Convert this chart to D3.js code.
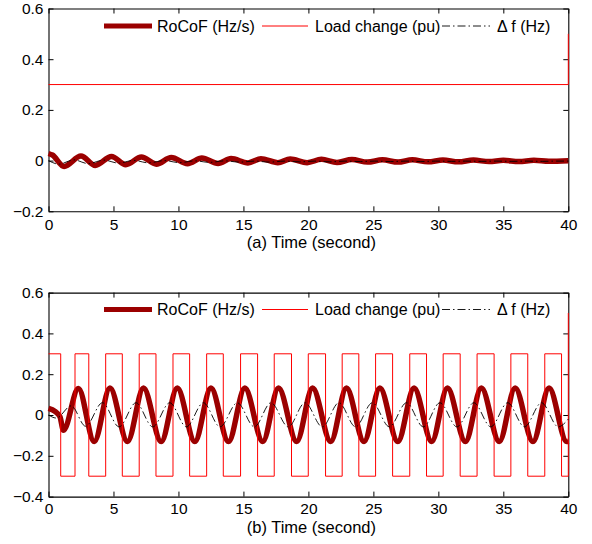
<!DOCTYPE html>
<html>
<head>
<meta charset="utf-8">
<script src="https://cdn.jsdelivr.net/npm/d3@7"></script>
<style>
  html, body { margin: 0; padding: 0; background: #fff; }
  svg { display: block; font-family: "Liberation Sans", Arial, Helvetica, sans-serif; }
</style>
</head>
<body>
<svg id="chart" width="592" height="544"></svg>
<script>
// ---------------- data ----------------
const timeTicks = [0, 5, 10, 15, 20, 25, 30, 35, 40];
const timeTickLabels = ["0", "5", "10", "15", "20", "25", "30", "35", "40"];
const yTicksA = [-0.2, 0, 0.2, 0.4, 0.6];
const yTickLabelsA = ["\u22120.2", "0", "0.2", "0.4", "0.6"];
const yTicksB = [-0.4, -0.2, 0, 0.2, 0.4, 0.6];
const yTickLabelsB = ["\u22120.4", "\u22120.2", "0", "0.2", "0.4", "0.6"];
const seriesNames = ["RoCoF (Hz/s)", "Load change (pu)", "\u0394 f (Hz)"];
const xLabelA = "(a) Time (second)";
const xLabelB = "(b) Time (second)";

// panel (a): constant load
const loadA_t = [0, 40];
const loadA_v = [0.3, 0.5];
const rocofA_t = [0, 0.3, 1.2, 2.5, 3.6, 4.85, 5.95, 7.15, 8.3, 9.45, 10.7, 11.8, 13.05, 14.05, 15.35, 16.35,
  17.65, 18.6, 19.9, 21.0, 22.2, 23.35, 24.55, 25.7, 26.9, 28.0, 29.2, 30.35, 31.55, 32.7, 33.9, 35.0,
  36.2, 37.35, 38.5, 40];
const rocofA_v = [0.028, 0.022, -0.023, 0.018, -0.019, 0.016, -0.016, 0.014, -0.014, 0.012, -0.012, 0.010, -0.011, 0.008, -0.009, 0.007,
  -0.008, 0.006, -0.008, 0.005, -0.007, 0.004, -0.006, 0.003, -0.006, 0.003, -0.005, 0.002, -0.005, 0.002, -0.004, 0.001,
  -0.004, 0.001, -0.003, -0.001];
const dfA_t = [0, 0.8, 1.95, 3.05, 4.25, 5.4, 6.55, 7.7, 8.9, 10.1, 11.25, 12.4, 13.55, 14.7, 15.85, 17.0, 18.15, 19.3,
  20.45, 21.6, 22.8, 24.0, 25.1, 26.3, 27.5, 28.6, 29.8, 31.0, 32.1, 33.3, 34.5, 35.6, 36.8, 38.0, 39.1, 40];
const dfA_v = [0, -0.014, 0.003, -0.012, 0.002, -0.010, 0.001, -0.009, 0.000, -0.008, -0.001, -0.007, -0.001, -0.006, -0.002, -0.006, -0.002, -0.005,
  -0.002, -0.005, -0.002, -0.004, -0.002, -0.004, -0.002, -0.004, -0.002, -0.003, -0.002, -0.003, -0.002, -0.003, -0.002, -0.003, -0.002, -0.002];

// panel (b): square-wave load (step times and levels)
const loadB_t = [0, 0.94, 2.04, 3.1, 4.4, 5.68, 6.98, 8.27, 9.58, 10.86, 12.17, 13.45, 14.78, 16.09, 17.37, 18.7,
  19.99, 21.32, 22.6, 23.88, 25.17, 26.48, 27.8, 29.09, 30.37, 31.68, 32.98, 34.29, 35.58, 36.88, 38.19, 39.48, 40];
const loadB_v = [0.3, -0.3, 0.3, -0.3, 0.3, -0.3, 0.3, -0.3, 0.3, -0.3, 0.3, -0.3, 0.3, -0.3, 0.3, -0.3,
  0.3, -0.3, 0.3, -0.3, 0.3, -0.3, 0.3, -0.3, 0.3, -0.3, 0.3, -0.3, 0.3, -0.3, 0.3, -0.3, 0.5];
const rocofB_t = [0, 0.5, 0.88, 1.15, 2.3, 3.52, 4.73, 6.08, 7.31, 8.67, 9.91, 11.26, 12.5, 13.85, 15.11, 16.49,
  17.7, 19.1, 20.32, 21.72, 22.93, 24.28, 25.5, 26.88, 28.13, 29.49, 30.7, 32.08, 33.31, 34.69, 35.91, 37.28,
  38.52, 39.88, 40];
const rocofB_v = [0.033, 0.018, -0.008, -0.075, 0.13, -0.13, 0.132, -0.13, 0.132, -0.13, 0.132, -0.13, 0.132, -0.13, 0.132, -0.13,
  0.132, -0.13, 0.132, -0.13, 0.132, -0.13, 0.132, -0.13, 0.132, -0.13, 0.132, -0.13, 0.132, -0.13, 0.132, -0.13,
  0.132, -0.13, -0.128];
const dfB_t = [0, 0.6, 1.75, 2.85, 4.15, 5.43, 6.73, 8.02, 9.33, 10.61, 11.92, 13.2, 14.53, 15.84, 17.12, 18.45,
  19.74, 21.07, 22.35, 23.63, 24.92, 26.23, 27.55, 28.84, 30.12, 31.43, 32.73, 34.04, 35.33, 36.63, 37.94, 39.23, 40];
const dfB_v = [0, -0.015, 0.045, -0.055, 0.06, -0.058, 0.06, -0.058, 0.06, -0.058, 0.06, -0.058, 0.06, -0.058, 0.06, -0.058,
  0.06, -0.058, 0.06, -0.058, 0.06, -0.058, 0.06, -0.058, 0.06, -0.058, 0.06, -0.058, 0.06, -0.058, 0.06, -0.058, -0.02];

// ---------------- drawing ----------------
const svg = d3.select("#chart");
const TICK_FONT = 15.5, LABEL_FONT = 16;
const C_ROCOF = "#9b0000", C_LOAD = "#ff0000", C_DF = "#000000";
const DF_DASH = "8,3,1.5,3";

function zip(t, v) { return t.map((d, i) => [d, v[i]]); }

function panel(opts) {
  const x = d3.scaleLinear().domain([0, 40]).range([48.5, 568.3]);
  const y = d3.scaleLinear().domain(opts.yDomain).range([opts.bottom, opts.top]);
  const g = svg.append("g");

  const styleAxis = sel => {
    sel.selectAll(".domain").attr("stroke", "#000").attr("stroke-width", 1.1);
    sel.selectAll(".tick line").attr("stroke", "#000").attr("stroke-width", 1);
    sel.selectAll("text").attr("font-size", TICK_FONT).attr("fill", "#000")
      .attr("font-family", '"Liberation Sans", Arial, Helvetica, sans-serif');
  };

  g.append("g").attr("transform", `translate(0,${opts.bottom})`)
    .call(d3.axisBottom(x).tickValues(timeTicks).tickFormat((d, i) => timeTickLabels[i])
      .tickSizeInner(-5).tickSizeOuter(0).tickPadding(opts.xPad))
    .call(styleAxis);
  g.append("g").attr("transform", `translate(0,${opts.top})`)
    .call(d3.axisTop(x).tickValues(timeTicks).tickFormat("").tickSizeInner(-5).tickSizeOuter(0))
    .call(styleAxis);
  g.append("g").attr("transform", `translate(48.5,0)`)
    .call(d3.axisLeft(y).tickValues(opts.yTicks).tickFormat((d, i) => opts.yLabels[i])
      .tickSizeInner(-5).tickSizeOuter(0).tickPadding(5))
    .call(styleAxis);
  g.append("g").attr("transform", `translate(568.3,0)`)
    .call(d3.axisRight(y).tickValues(opts.yTicks).tickFormat("").tickSizeInner(-5).tickSizeOuter(0))
    .call(styleAxis);

  const smooth = d3.line().x(d => x(d[0])).y(d => y(d[1])).curve(d3.curveMonotoneX);
  const step = d3.line().x(d => x(d[0])).y(d => y(d[1])).curve(d3.curveStepAfter);

  g.append("path").datum(zip(opts.rocofT, opts.rocofV)).attr("d", smooth)
    .attr("fill", "none").attr("stroke", C_ROCOF).attr("stroke-width", 5.5).attr("stroke-linejoin", "round");
  g.append("path").datum(zip(opts.loadT, opts.loadV)).attr("d", step)
    .attr("fill", "none").attr("stroke", C_LOAD).attr("stroke-width", 1);
  g.append("path").datum(zip(opts.dfT, opts.dfV)).attr("d", smooth)
    .attr("fill", "none").attr("stroke", C_DF).attr("stroke-width", 0.9).attr("stroke-dasharray", DF_DASH);

  // x label
  g.append("text").attr("x", (48.5 + 568.3) / 2 + 3).attr("y", opts.xLabelY)
    .attr("text-anchor", "middle").attr("font-size", LABEL_FONT + 0.5).text(opts.xLabel);

  // legend
  const ly = opts.legendY;
  const lg = g.append("g");
  lg.append("line").attr("x1", 104).attr("x2", 152).attr("y1", ly).attr("y2", ly)
    .attr("stroke", C_ROCOF).attr("stroke-width", 5);
  lg.append("text").attr("x", 157).attr("y", ly + 5.5).attr("font-size", LABEL_FONT).text(seriesNames[0]);
  lg.append("line").attr("x1", 262).attr("x2", 308).attr("y1", ly).attr("y2", ly)
    .attr("stroke", C_LOAD).attr("stroke-width", 1);
  lg.append("text").attr("x", 315).attr("y", ly + 5.5).attr("font-size", LABEL_FONT).text(seriesNames[1]);
  lg.append("line").attr("x1", 442).attr("x2", 490).attr("y1", ly).attr("y2", ly)
    .attr("stroke", C_DF).attr("stroke-width", 0.9).attr("stroke-dasharray", DF_DASH);
  lg.append("text").attr("x", 497).attr("y", ly + 5.5).attr("font-size", LABEL_FONT).text(seriesNames[2]);
}

panel({
  yDomain: [-0.2, 0.6], top: 8.5, bottom: 211.3, yTicks: yTicksA, yLabels: yTickLabelsA,
  xPad: 8, xLabelY: 248, xLabel: xLabelA, legendY: 26,
  rocofT: rocofA_t, rocofV: rocofA_v, loadT: loadA_t, loadV: loadA_v, dfT: dfA_t, dfV: dfA_v
});
panel({
  yDomain: [-0.4, 0.6], top: 292.6, bottom: 496.6, yTicks: yTicksB, yLabels: yTickLabelsB,
  xPad: 6, xLabelY: 533, xLabel: xLabelB, legendY: 309.5,
  rocofT: rocofB_t, rocofV: rocofB_v, loadT: loadB_t, loadV: loadB_v, dfT: dfB_t, dfV: dfB_v
});
</script>
</body>
</html>
